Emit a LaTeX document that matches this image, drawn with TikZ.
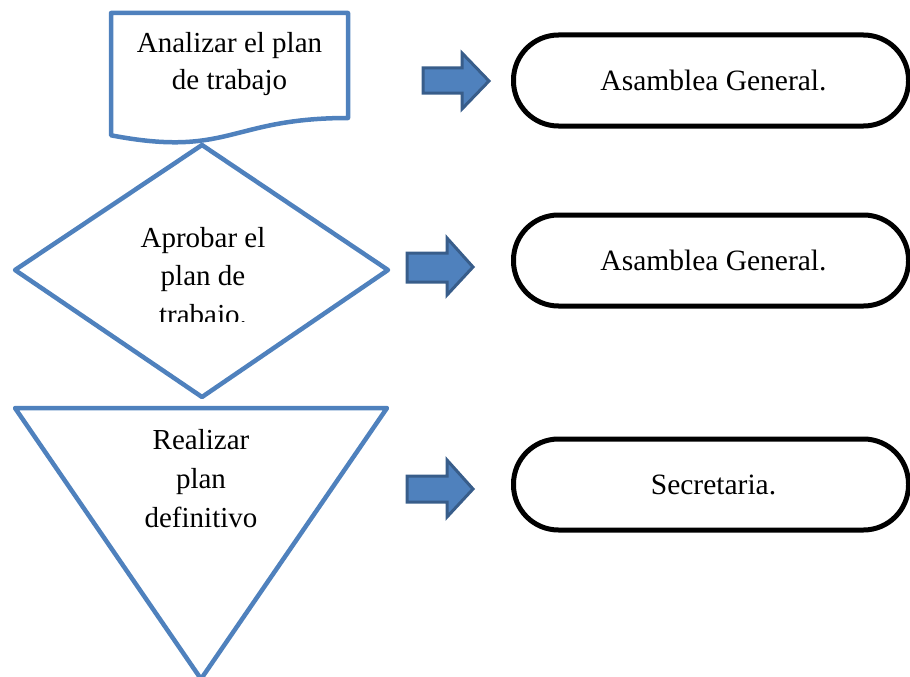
\documentclass[tikz,border=0pt]{standalone}
\usepackage{fontspec}
\setmainfont{Liberation Serif}
\definecolor{flowblue}{HTML}{4F81BD}
\definecolor{arrowedge}{HTML}{385D8A}
\begin{document}
\begin{tikzpicture}[x=1pt,y=-1pt,
  flow/.style={draw=flowblue, line width=4.5pt, line join=round},
  term/.style={draw=black, line width=5pt, rounded corners=45pt,
    minimum width=395pt, minimum height=91pt, inner sep=0pt,
    font=\fontsize{29.5}{37}\selectfont},
  blockarrow/.style={draw=arrowedge, fill=flowblue, line width=3pt, line join=miter},
  label/.style={font=\fontsize{29}{37}\selectfont, align=center, inner sep=0pt, text=black}]
\useasboundingbox (0,0) rectangle (910,677);

% document shape with wavy bottom
\draw[flow] (111,13) -- (348,13) -- (348,118)
  .. controls (229.5,118) and (229.5,158) .. (111,135.3) -- cycle;
\node[label] (analizar) at (229.5,64) {Analizar el plan\\de trabajo};

% decision diamond, its last text line cut off by the box edge
\draw[flow] (202,145) -- (388,270) -- (202,397) -- (15,270) -- cycle;
\begin{scope}
  \clip (0,140) rectangle (400,321);
  \node[label, font=\fontsize{29}{38.5}\selectfont] (aprobar) at (203,279) {Aprobar el\\plan de\\trabajo.};
\end{scope}

% inverted triangle
\draw[flow] (15,408) -- (387,408) -- (201,679) -- cycle;
\node[label, font=\fontsize{29}{39}\selectfont] (realizar) at (201,479) {Realizar\\plan\\definitivo};

% block arrows
\draw[blockarrow] (423,68) -- (462,68) -- (462,53) -- (489,81) -- (462,109) -- (462,93) -- (423,93) -- cycle;
\draw[blockarrow] (407,253) -- (447,253) -- (447,238) -- (473,267) -- (447,295) -- (447,282) -- (407,282) -- cycle;
\draw[blockarrow] (407,476) -- (447,476) -- (447,460) -- (473,489) -- (447,517) -- (447,502) -- (407,502) -- cycle;

% terminators
\node[term] (asamblea1) at (711,80.5) {\hspace{5pt}Asamblea General.};
\node[term] (asamblea2) at (711,260.5) {\hspace{5pt}Asamblea General.};
\node[term] (secretaria) at (711,484.5) {\hspace{5pt}Secretaria.};
\end{tikzpicture}
\end{document}
